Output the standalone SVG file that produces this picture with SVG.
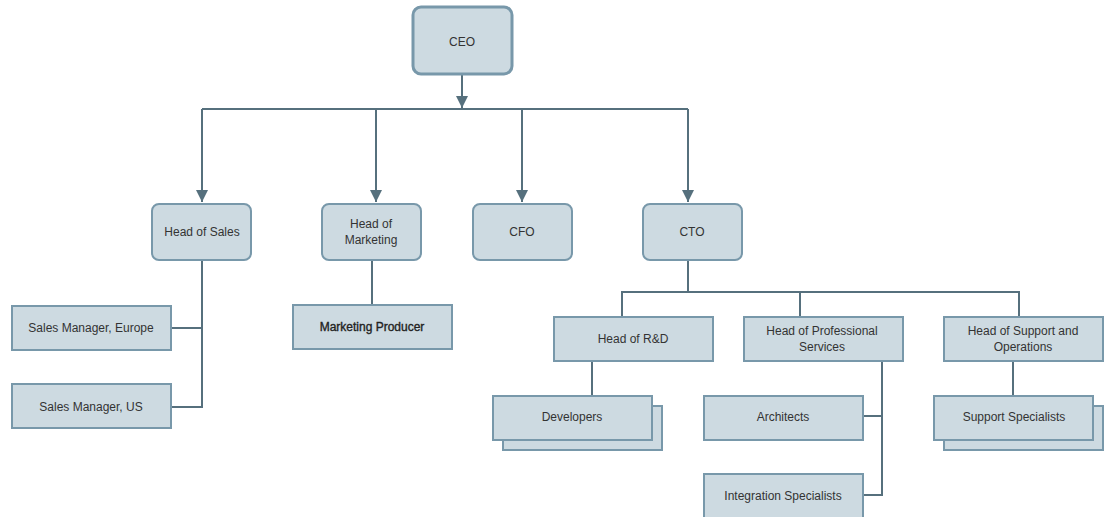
<svg xmlns="http://www.w3.org/2000/svg" width="1107" height="517" viewBox="0 0 1107 517">
  <defs>
    <marker id="arrow" viewBox="0 0 12 12" refX="12" refY="6" markerWidth="12" markerHeight="12" markerUnits="userSpaceOnUse" orient="auto">
      <path d="M0,0 L12,6 L0,12 Z" fill="#56707d"/>
    </marker>
  </defs>
  <style>
    .box { fill: #cddae1; stroke: #7898aa; stroke-width: 2; }
    .top { fill: #cddae1; stroke: #7898aa; stroke-width: 3; }
    .edge { fill: none; stroke: #56707d; stroke-width: 2; }
    text { font-family: "Liberation Sans", Arial, sans-serif; font-size: 12px; fill: #333; text-anchor: middle; dominant-baseline: central; }
    .strong { fill: #222; stroke: #222; stroke-width: 0.35; }
  </style>
  <rect width="1107" height="517" fill="#fff"/>

  <g id="connectors">
    <!-- CEO to direct reports -->
    <line class="edge" x1="462" y1="75" x2="462" y2="108" marker-end="url(#arrow)"/>
    <path class="edge" d="M202,109 H688"/>
    <line class="edge" x1="202" y1="109" x2="202" y2="202" marker-end="url(#arrow)"/>
    <line class="edge" x1="376" y1="109" x2="376" y2="202" marker-end="url(#arrow)"/>
    <line class="edge" x1="522" y1="109" x2="522" y2="202" marker-end="url(#arrow)"/>
    <line class="edge" x1="688" y1="109" x2="688" y2="202" marker-end="url(#arrow)"/>
    <!-- Sales -->
    <path class="edge" d="M202,261 V407 H171 M202,328 H171"/>
    <!-- Marketing -->
    <path class="edge" d="M372,261 V304"/>
    <!-- CTO -->
    <path class="edge" d="M688,261 V292 M622,316 V292 H1019 V316 M800,292 V316"/>
    <!-- R&D -->
    <path class="edge" d="M592,361 V395"/>
    <!-- Professional services -->
    <path class="edge" d="M882,361 V495 H863 M882,416 H863"/>
    <!-- Support -->
    <path class="edge" d="M1013,361 V395"/>
  </g>

  <g id="ceo">
    <rect class="top" x="413" y="7" width="99" height="67" rx="8"/>
    <text x="462" y="42">CEO</text>
  </g>
  <g id="head-of-sales">
    <rect class="box" x="152" y="204" width="99" height="56" rx="7"/>
    <text x="202" y="232">Head of Sales</text>
  </g>
  <g id="head-of-marketing">
    <rect class="box" x="322" y="204" width="99" height="56" rx="7"/>
    <text x="371" y="224">Head of</text>
    <text x="371" y="240">Marketing</text>
  </g>
  <g id="cfo">
    <rect class="box" x="473" y="204" width="99" height="56" rx="7"/>
    <text x="522" y="232">CFO</text>
  </g>
  <g id="cto">
    <rect class="box" x="643" y="204" width="99" height="56" rx="7"/>
    <text x="692" y="232">CTO</text>
  </g>

  <g id="sales-manager-europe">
    <rect class="box" x="12" y="306" width="159" height="44"/>
    <text x="91" y="328">Sales Manager, Europe</text>
  </g>
  <g id="sales-manager-us">
    <rect class="box" x="12" y="384" width="159" height="44"/>
    <text x="91" y="407">Sales Manager, US</text>
  </g>
  <g id="marketing-producer">
    <rect class="box" x="293" y="305" width="159" height="44"/>
    <text class="strong" x="372" y="327">Marketing Producer</text>
  </g>

  <g id="head-of-rnd">
    <rect class="box" x="554" y="317" width="159" height="44"/>
    <text x="633" y="339">Head of R&amp;D</text>
  </g>
  <g id="head-of-professional-services">
    <rect class="box" x="744" y="317" width="159" height="44"/>
    <text x="822" y="331">Head of Professional</text>
    <text x="822" y="347">Services</text>
  </g>
  <g id="head-of-support">
    <rect class="box" x="944" y="317" width="159" height="44"/>
    <text x="1023" y="331">Head of Support and</text>
    <text x="1023" y="347">Operations</text>
  </g>

  <g id="developers">
    <rect class="box" x="503" y="406" width="159" height="44"/>
    <rect class="box" x="493" y="396" width="159" height="44"/>
    <text x="572" y="417">Developers</text>
  </g>
  <g id="architects">
    <rect class="box" x="704" y="396" width="159" height="44"/>
    <text x="783" y="417">Architects</text>
  </g>
  <g id="integration-specialists">
    <rect class="box" x="704" y="474" width="159" height="46"/>
    <text x="783" y="496">Integration Specialists</text>
  </g>
  <g id="support-specialists">
    <rect class="box" x="944" y="406" width="159" height="44"/>
    <rect class="box" x="934" y="396" width="159" height="44"/>
    <text x="1014" y="417">Support Specialists</text>
  </g>
</svg>
